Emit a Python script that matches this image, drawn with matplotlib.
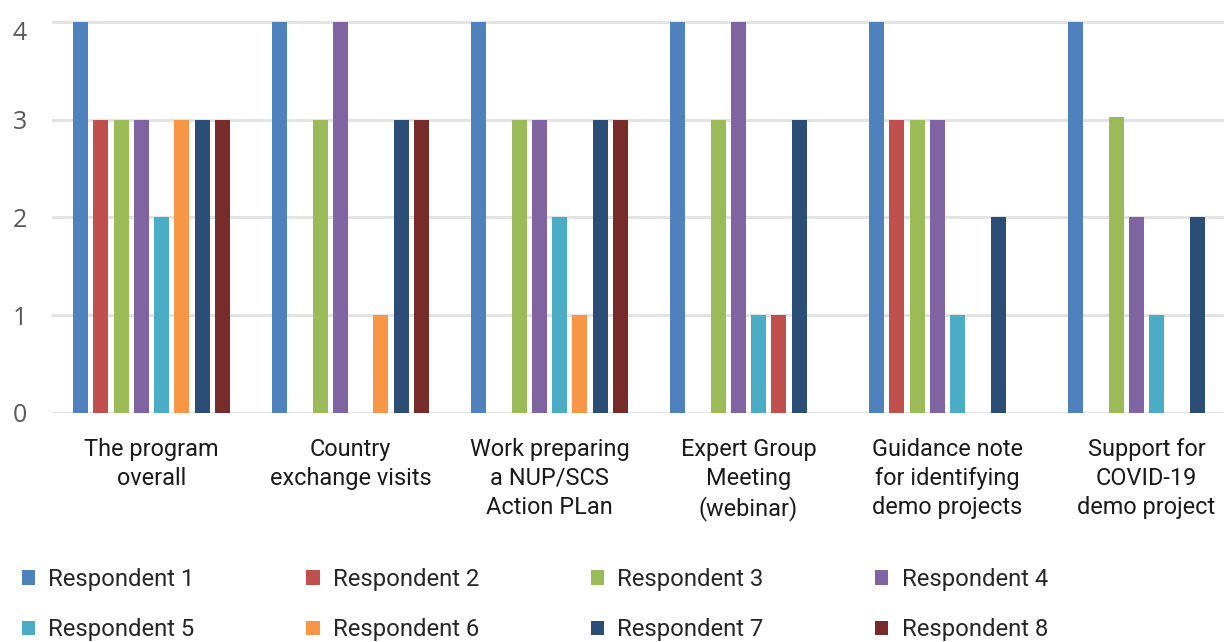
import matplotlib
matplotlib.use("Agg")
import matplotlib.pyplot as plt
import matplotlib.transforms as mtransforms
from matplotlib.patches import Patch
import numpy as np

categories = [
    "The program\noverall",
    "Country\nexchange visits",
    "Work preparing\na NUP/SCS\nAction PLan",
    "Expert Group\nMeeting\n(webinar)",
    "Guidance note\nfor identifying\ndemo projects",
    "Support for\nCOVID-19\ndemo project",
]
respondents = [f"Respondent {i}" for i in range(1, 9)]

r1 = [4, 4, 4, 4, 4, 4]
r2 = [3, 0, 0, 0, 3, 0]
r3 = [3, 3, 3, 3, 3, 3.03]
r4 = [3, 4, 3, 4, 3, 2]
r5 = [2, 0, 2, 1, 1, 1]
r6 = [3, 1, 1, 1, 0, 0]
r7 = [3, 3, 3, 3, 2, 2]
r8 = [3, 3, 3, 0, 0, 0]
series = [r1, r2, r3, r4, r5, r6, r7, r8]

colors = ["#4F81BD", "#C0504D", "#9BBB59", "#8064A2",
          "#4BACC6", "#F79646", "#2C4D75", "#772C2A"]
# (respondent index, category index) -> fill colour for individual bars
bar_color_override = {(5, 3): "#C0504D"}

W, H = 1224, 642
fig = plt.figure(figsize=(W / 100, H / 100), dpi=100)
ax = fig.add_axes([52 / W, (H - 413) / H, 1194 / W, 396.9 / H])

slot = 0.102
width = 0.0754
x = np.arange(len(categories))
for j, vals in enumerate(series):
    pos = x + (j - 3.5) * slot
    cols = [bar_color_override.get((j, i), colors[j]) for i in range(len(vals))]
    ax.bar(pos, vals, width=width, color=cols, zorder=3, linewidth=0)

ax.set_xlim(-0.5, len(categories) - 0.5)
ax.set_ylim(0, 4.06)
ax.set_yticks([0, 1, 2, 3, 4])
ax.yaxis.grid(True, color="#E3E3E3", linewidth=2.2, zorder=0)
ax.set_axisbelow(True)
for s in ax.spines.values():
    s.set_visible(False)

ax.set_xticks(x)
ax.set_xticklabels(categories, fontfamily="Roboto", fontsize=16.9,
                   color="#1A1A1A", linespacing=1.32)
ax.tick_params(axis="x", length=0, pad=18)
ax.tick_params(axis="y", length=0, pad=18, labelsize=18, labelcolor="#595959")
for lab in ax.get_yticklabels():
    lab.set_fontfamily("Open Sans")
# top tick label sits a little below its gridline
top_lab = ax.get_yticklabels()[-1]
top_lab.set_transform(top_lab.get_transform() +
                      mtransforms.ScaledTranslation(0, -9 / 100, fig.dpi_scale_trans))

handles = [Patch(facecolor=c, edgecolor="none") for c in colors]
order = [0, 4, 1, 5, 2, 6, 3, 7]
leg = fig.legend([handles[i] for i in order], [respondents[i] for i in order],
                 ncol=4, loc="upper left", bbox_to_anchor=(22 / W, 1 - 568 / H),
                 frameon=False, handlelength=0.55, handleheight=0.55,
                 handletextpad=0.55, columnspacing=4.68, labelspacing=1.15,
                 borderaxespad=0, borderpad=0,
                 prop={"family": "Roboto", "weight": "normal", "size": 17.2})
for t in leg.get_texts():
    t.set_color("#262626")

fig.savefig("out.png", dpi=100)
